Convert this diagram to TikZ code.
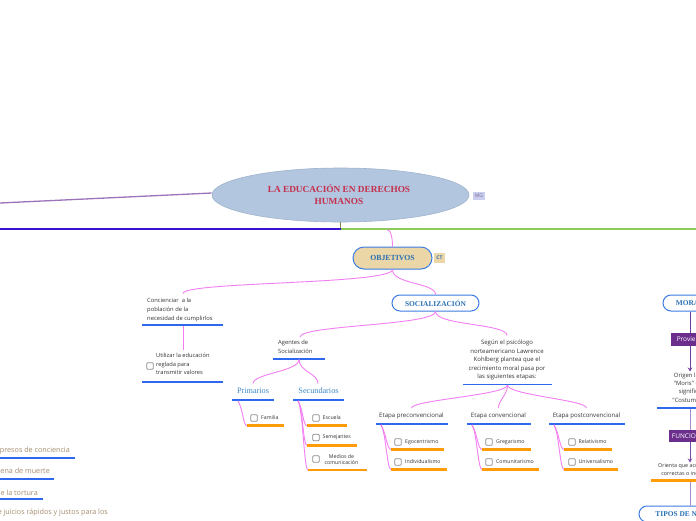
\documentclass[tikz,border=0pt]{standalone}
\usepackage{fontspec}
\setmainfont{Liberation Serif}
\newfontfamily\osans{Open Sans}
\usetikzlibrary{shapes.geometric,arrows.meta}
\definecolor{ellf}{HTML}{B2C6E0}
\definecolor{ellb}{HTML}{9FB3CB}
\definecolor{titlered}{HTML}{C52F4B}
\definecolor{mgf}{HTML}{C9CDEE}
\definecolor{mgt}{HTML}{7A6A9E}
\definecolor{tanf}{HTML}{EBD6A8}
\definecolor{headblue}{HTML}{2A70B4}
\definecolor{subblue}{HTML}{3A86C6}
\definecolor{nodeblue}{HTML}{3C7CE2}
\definecolor{pinkc}{HTML}{F27EF2}
\definecolor{ulblue}{HTML}{2F68EE}
\definecolor{ulorange}{HTML}{FF9C08}
\definecolor{txtgray}{HTML}{333333}
\definecolor{chkgray}{HTML}{8A8A8A}
\definecolor{purl}{HTML}{9C72BA}
\definecolor{darkblue}{HTML}{3A12D2}
\definecolor{olivec}{HTML}{7C8C48}
\definecolor{greenc}{HTML}{8CCB5A}
\definecolor{provp}{HTML}{6B2E8C}
\definecolor{darkpurp}{HTML}{6E3D9E}
\definecolor{lavender}{HTML}{A68CCC}
\definecolor{tantext}{HTML}{A38B6D}
\begin{document}
\begin{tikzpicture}[x=1pt,y=-1pt,
  pinkl/.style={draw=pinkc, line width=0.9pt},
  bul/.style={draw=ulblue, line width=1.6pt},
  oul/.style={draw=ulorange, line width=2.5pt},
  txt/.style={font=\osans\fontsize{5.8}{9}\selectfont, inner sep=0, text=txtgray},
  itm/.style={font=\osans\fontsize{5.2}{6}\selectfont, inner sep=0, anchor=west, text=txtgray},
  chk/.style={draw=chkgray, fill=white, rounded corners=0.9pt, minimum size=6.5pt, inner sep=0, line width=0.6pt},
  hbox/.style={draw=nodeblue, line width=1pt, rounded corners=8pt, inner sep=0, font=\bfseries\fontsize{7.4}{8}\selectfont, text=headblue},
  pbox/.style={fill=provp, text=white, font=\osans\fontsize{6.5}{7}\selectfont, inner sep=0},
  blt/.style={font=\osans\fontsize{7.2}{8}\selectfont, text=tantext, anchor=east, inner sep=0}
]
\useasboundingbox (0,0) rectangle (696,520);

% ---- root
\node[ellipse, draw=ellb, fill=ellf, minimum width=257pt, minimum height=54pt, inner sep=0, line width=0.6pt] (root) at (340.5,195) {};
\node[font=\bfseries\fontsize{9.3}{12}\selectfont, text=titlered, align=center, inner sep=0] (title) at (339,195) {LA EDUCACIÓN EN DERECHOS\\HUMANOS};
\node[fill=mgf, text=mgt, font=\osans\fontsize{5}{5}\selectfont, minimum width=12pt, minimum height=8pt, inner sep=0] (mg) at (479,195.5) {MG};

\coordinate (pl) at (0,203);
\coordinate (jn) at (340.5,229);
\coordinate (bl) at (0,229);
\coordinate (gr) at (696,229);
\coordinate (pj) at (387,229.5);
\draw[draw=purl, line width=1.3pt] ([yshift=2pt]root.west) -- (pl);
\draw[draw=olivec, line width=1.3pt] (root.south) -- (jn);
\draw[draw=darkblue, line width=1.2pt] (jn) -- (bl);
\draw[draw=greenc, line width=1.4pt] (jn) -- (gr);

% ---- OBJETIVOS
\node[hbox, fill=tanf, minimum width=79pt, minimum height=22pt, rounded corners=11pt, font=\bfseries\fontsize{7.8}{8}\selectfont] (obj) at (392.5,258) {OBJETIVOS};
\node[fill=tanf, text=headblue, font=\osans\bfseries\fontsize{5}{5}\selectfont, minimum width=11pt, minimum height=10pt, inner sep=0] (ct) at (439.5,258) {CT};
\draw[pinkl] (pj) .. controls +(4,0) and +(0,-8) .. (obj.north);

\node[hbox, fill=white, minimum width=87pt, minimum height=16pt] (soc) at (435.5,303) {SOCIALIZACIÓN};

% ---- Concienciar
\node[txt, anchor=north west, align=left] (con) at (147,297.5) {Concienciar\ \ a la\\población de la\\necesidad de cumplirlos};
\coordinate (conT) at (183,293.5);
\coordinate (conB) at (183,325.5);
\draw[pinkl] (obj.south) .. controls +(0,15) and +(0,-12) .. (conT);
\draw[pinkl] (obj.south) .. controls +(0,15) and +(0,-12) .. (soc.north);
\draw[bul] (142,325) -- (223,325);

% ---- Utilizar
\node[txt, anchor=north west, align=left, font=\osans\fontsize{5.7}{8.6}\selectfont] (uti) at (156,353) {Utilizar la educación\\reglada para\\transmitir valores};
\node[chk] (k0) at (150,366) {};
\coordinate (utiT) at (183,350);
\draw[pinkl] (conB) -- (utiT);
\draw[bul] (142,382) -- (223,382);

% ---- Agentes
\node[txt, anchor=north west, align=left] (age) at (278,339.5) {Agentes de\\Socialización};
\coordinate (ageT) at (300,337);
\coordinate (ageB) at (299,359.5);
\draw[pinkl] (soc.south) .. controls +(0,14) and +(0,-12) .. (ageT);
\draw[bul] (273,359) -- (325,359);

% ---- Segun
\node[txt, align=center, font=\osans\fontsize{6.0}{8.5}\selectfont] (seg) at (507,360) {Según el psicólogo\\norteamericano Lawrence\\Kohlberg plantea que el\\crecimiento moral pasa por\\las siguientes etapas:};
\coordinate (segT) at (507,335.5);
\coordinate (segB) at (507.5,385);
\draw[pinkl] (soc.south) .. controls +(0,14) and +(0,-12) .. (segT);
\draw[bul] (463,384.5) -- (552,384.5);

% ---- Primarios / Secundarios
\node[font=\fontsize{8.2}{9}\selectfont, text=subblue, inner sep=0] (pri) at (253,391) {Primarios};
\node[font=\fontsize{8.2}{9}\selectfont, text=subblue, inner sep=0] (sec) at (318.5,391) {Secundarios};
\coordinate (priT) at (253,383.5);
\coordinate (secT) at (318,383.5);
\draw[pinkl] (ageB) .. controls +(0,12) and +(0,-10) .. (priT);
\draw[pinkl] (ageB) .. controls +(0,12) and +(0,-10) .. (secT);
\draw[bul] (232,400) -- (274,400);
\draw[bul] (293,400) -- (344,400);

% items under Primarios
\coordinate (priB) at (238,400.8);
\coordinate (fam0) at (247,425.7);
\draw[pinkl] (priB) .. controls +(5,8) and +(-4,0) .. (fam0);
\node[chk] (kfam) at (254,418) {};
\node[itm] (fam) at (261,418) {Familia};
\draw[oul] (fam0) -- (284,425.7);

% items under Secundarios
\coordinate (secB) at (298,400.8);
\coordinate (esc0) at (307,425.7);
\coordinate (sem0) at (307,445.3);
\coordinate (med0) at (308,470);
\draw[pinkl] (secB) .. controls +(5,8) and +(-4,0) .. (esc0);
\draw[pinkl] (secB) .. controls +(5,8) and +(-4,0) .. (sem0);
\draw[pinkl] (secB) .. controls +(5,8) and +(-4,0) .. (med0);
\node[chk] (kesc) at (316,418) {};
\node[itm] (esc) at (322.5,418) {Escuela};
\node[chk] (ksem) at (316,437.5) {};
\node[itm] (sem) at (322.5,437.5) {Semejantes};
\node[chk] (kmed) at (316,459) {};
\node[itm, anchor=center, align=center] (med) at (341.5,460) {Medios de\\comunicación};
\draw[oul] (esc0) -- (347,425.7);
\draw[oul] (sem0) -- (357,445.3);
\draw[oul] (med0) -- (367,470);

% ---- Etapas
\node[txt, font=\osans\fontsize{6.1}{8}\selectfont] (pre) at (411.5,415.5) {Etapa preconvencional};
\node[txt, font=\osans\fontsize{6.1}{8}\selectfont] (conv) at (498.5,415.5) {Etapa convencional};
\node[txt, font=\osans\fontsize{6.1}{8}\selectfont] (post) at (586.5,415.5) {Etapa postconvencional};
\coordinate (preT) at (411.5,408);
\coordinate (convT) at (498.5,408);
\coordinate (postT) at (586.5,408);
\draw[pinkl] (segB) .. controls +(0,10) and +(0,-8) .. (preT);
\draw[pinkl] (segB) .. controls +(0,10) and +(0,-8) .. (convT);
\draw[pinkl] (segB) .. controls +(0,10) and +(0,-8) .. (postT);
\draw[bul] (376,424) -- (448,424);
\draw[bul] (467,424) -- (531,424);
\draw[bul] (549,424) -- (625,424);

\coordinate (preB) at (381,424.8);
\coordinate (convB) at (472,424.8);
\coordinate (postB) at (554,424.8);
\coordinate (ego0) at (391,449.5);
\coordinate (ind0) at (391,469.5);
\coordinate (gre0) at (482,449.5);
\coordinate (com0) at (482,469.5);
\coordinate (rel0) at (564,449.5);
\coordinate (uni0) at (564,469.5);
\foreach \a/\b in {preB/ego0,preB/ind0,convB/gre0,convB/com0,postB/rel0,postB/uni0}
  \draw[pinkl] (\a) .. controls +(5,8) and +(-4,0) .. (\b);

\node[chk] (kego) at (398,442) {};
\node[itm] (ego) at (405,442) {Egocentrismo};
\node[chk] (kind) at (398,462) {};
\node[itm] (ind) at (405,462) {Individualismo};
\node[chk] (kgre) at (489,442) {};
\node[itm] (gre) at (496,442) {Gregarismo};
\node[chk] (kcom) at (489,462) {};
\node[itm] (com) at (496,462) {Comunitarismo};
\node[chk] (krel) at (572,442) {};
\node[itm] (rel) at (578.5,442) {Relativismo};
\node[chk] (kuni) at (572,462) {};
\node[itm] (uni) at (578.5,462) {Universalismo};
\draw[oul] (ego0) -- (444,449.5);
\draw[oul] (ind0) -- (447,469.5);
\draw[oul] (gre0) -- (531,449.5);
\draw[oul] (com0) -- (539,469.5);
\draw[oul] (rel0) -- (612,449.5);
\draw[oul] (uni0) -- (618,469.5);

% ---- right column (MORAL)
\node[hbox, fill=white, minimum width=54pt, minimum height=16pt] (moral) at (690,303) {MORAL};
\node[pbox, minimum width=38pt, minimum height=13pt] (prov) at (690,339.5) {Proviene};
\draw[draw=darkpurp, line width=1pt] (moral.south) -- (prov.north);
\node[txt, align=center, font=\osans\fontsize{5.9}{8.3}\selectfont] (orig) at (690,387.5) {Origen latín\\\textquotedbl Moris\textquotedbl\ que\\significa\\\textquotedbl Costumbre\textquotedbl};
\coordinate (origT) at (690,371.5);
\coordinate (origB) at (690,408.5);
\draw[draw=darkpurp, line width=1pt, -{Stealth[length=4pt,width=4.5pt]}] (prov.south) -- (origT);
\draw[bul] (657,407.7) -- (723,407.7);
\node[pbox, minimum width=42pt, minimum height=12pt] (fun) at (690,436) {FUNCIONES};
\draw[draw=lavender, line width=1pt] (origB) -- (fun.north);
\node[txt, align=center, font=\osans\fontsize{5.4}{8}\selectfont] (ori) at (690,470) {Orienta que acciones son\\correctas o incorrectas};
\coordinate (oriT) at (690,462.5);
\coordinate (oriB) at (690,482);
\draw[draw=darkpurp!80!lavender, line width=1pt, -{Stealth[length=4pt,width=4.5pt]}] (fun.south) -- (oriT);
\draw[oul] (651,480.7) -- (729,480.7);
\node[hbox, fill=white, minimum width=102pt, minimum height=16pt] (tip) at (690,514) {TIPOS DE NORMAS};
\draw[draw=lavender, line width=1pt] (oriB) -- (tip.north);

% ---- bottom-left cut-off items
\node[blt] (b1) at (70,451) {presos de conciencia};
\node[blt] (b2) at (50,471.5) {pena de muerte};
\node[blt] (b3) at (38,492.5) {de la tortura};
\node[blt] (b4) at (108,513) {de juicios rápidos y justos para los};
\draw[bul] (0,457.7) -- (75,457.7);
\draw[bul] (0,479) -- (54,479);
\draw[bul] (0,499) -- (43,499);
\end{tikzpicture}
\end{document}
